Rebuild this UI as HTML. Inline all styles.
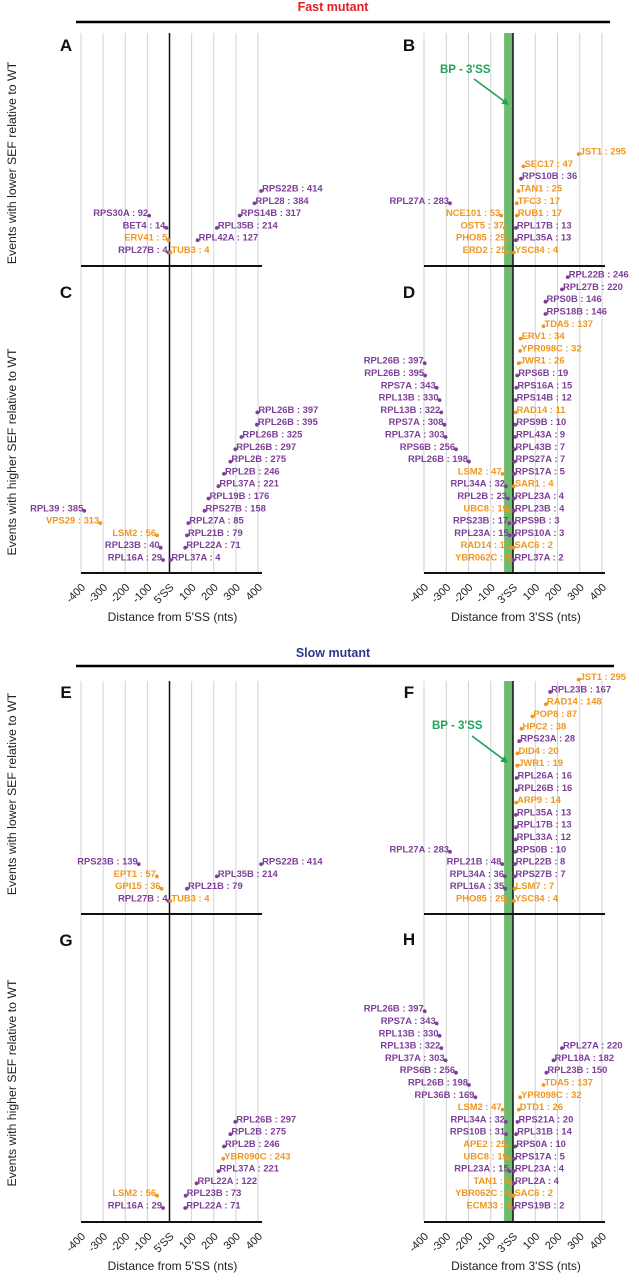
<!DOCTYPE html>
<html><head><meta charset="utf-8"><style>
html,body{margin:0;padding:0;background:#fff;}
svg{display:block;font-family:"Liberation Sans",sans-serif;}
</style></head><body>
<svg id="fig" width="639" height="1280" viewBox="0 0 639 1280" xmlns="http://www.w3.org/2000/svg">
<text x="333" y="11" text-anchor="middle" font-size="12.5" font-weight="bold" fill="#e31e24">Fast mutant</text>
<line x1="76" y1="22" x2="610" y2="22" stroke="#000" stroke-width="2.5"/>
<text x="333" y="657" text-anchor="middle" font-size="12.5" font-weight="bold" fill="#2e3a8c">Slow mutant</text>
<line x1="76" y1="666" x2="614" y2="666" stroke="#000" stroke-width="2.5"/>
<g id="layer"></g>
</svg>
<script>
// ---- data (bottom row first) ----
const A_L_genes=["RPL27B","ERV41","BET4","RPS30A"];
const A_L_vals=[4,5,14,92];
const A_L_cls="popp";
const A_R_genes=["TUB3","RPL42A","RPL35B","RPS14B","RPL28","RPS22B"];
const A_R_vals=[4,127,214,317,384,414];
const A_R_cls="oppppp";

const B_L_genes=["ERD2","PHO85","OST5","NCE101","RPL27A"];
const B_L_vals=[25,29,37,53,283];
const B_L_cls="oooop";
const B_R_genes=["YSC84","RPL35A","RPL17B","RUB1","TFC3","TAN1","RPS10B","SEC17","JST1"];
const B_R_vals=[4,13,13,17,17,25,36,47,295];
const B_R_cls="oppooopoo";

const C_L_genes=["RPL16A","RPL23B","LSM2","VPS29","RPL39"];
const C_L_vals=[29,40,56,313,385];
const C_L_cls="ppoop";
const C_R_genes=["RPL37A","RPL22A","RPL21B","RPL27A","RPS27B","RPL19B","RPL37A","RPL2B","RPL2B","RPL26B","RPL26B","RPL26B","RPL26B"];
const C_R_vals=[4,71,79,85,158,176,221,246,275,297,325,395,397];
const C_R_cls="ppppppppppppp";

const D_L_genes=["YBR062C","RAD14","RPL23A","RPS23B","UBC8","RPL2B","RPL34A","LSM2","RPL26B","RPS6B","RPL37A","RPS7A","RPL13B","RPL13B","RPS7A","RPL26B","RPL26B"];
const D_L_vals=[5,11,15,17,19,23,32,47,198,256,303,308,322,330,343,395,397];
const D_L_cls="ooppoppoppppppppp";
const D_R_genes=["RPL37A","SAC6","RPS10A","RPS9B","RPL23B","RPL23A","SAR1","RPS17A","RPS27A","RPL43B","RPL43A","RPS9B","RAD14","RPS14B","RPS16A","RPS6B","JWR1","YPR098C","ERV1","TDA5","RPS18B","RPS0B","RPL27B","RPL22B"];
const D_R_vals=[2,2,3,3,4,4,4,5,7,7,9,10,11,12,15,19,26,32,34,137,146,146,220,246];
const D_R_cls="poppppopppppopppoooopppp";

const E_L_genes=["RPL27B","GPI15","EPT1","RPS23B"];
const E_L_vals=[4,36,57,139];
const E_L_cls="poop";
const E_R_genes=["TUB3","RPL21B","RPL35B","RPS22B"];
const E_R_vals=[4,79,214,414];
const E_R_cls="oppp";

const F_L_genes=["PHO85","RPL16A","RPL34A","RPL21B","RPL27A"];
const F_L_vals=[29,35,36,48,283];
const F_L_cls="opppp";
const F_R_genes=["YSC84","LSM7","RPS27B","RPL22B","RPS0B","RPL33A","RPL17B","RPL35A","ARP9","RPL26B","RPL26A","JWR1","DID4","RPS23A","HPC2","POP8","RAD14","RPL23B","JST1"];
const F_R_vals=[4,7,7,8,10,12,13,13,14,16,16,19,20,28,38,87,148,167,295];
const F_R_cls="ooppppppoppoopooopo";

const G_L_genes=["RPL16A","LSM2"];
const G_L_vals=[29,56];
const G_L_cls="po";
const G_R_genes=["RPL22A","RPL23B","RPL22A","RPL37A","YBR090C","RPL2B","RPL2B","RPL26B"];
const G_R_vals=[71,73,122,221,243,246,275,297];
const G_R_cls="ppppoppp";

const H_L_genes=["ECM33","YBR062C","TAN1","RPL23A","UBC8","APE2","RPS10B","RPL34A","LSM2","RPL36B","RPL26B","RPS6B","RPL37A","RPL13B","RPL13B","RPS7A","RPL26B"];
const H_L_vals=[3,5,6,15,19,25,31,32,47,169,198,256,303,322,330,343,397];
const H_L_cls="ooopooppopppppppp";
const H_R_genes=["RPS19B","SAC6","RPL2A","RPL23A","RPS17A","RPS0A","RPL31B","RPS21A","DTD1","YPR098C","TDA5","RPL23B","RPL18A","RPL27A"];
const H_R_vals=[2,2,4,4,5,10,14,20,26,32,137,150,182,220];
const H_R_cls="poppppppoooppp";

const tickLabels5=["-400","-300","-200","-100","5'SS","100","200","300","400"];
const tickLabels3=["-400","-300","-200","-100","3'SS","100","200","300","400"];
const tickVals=[-400,-300,-200,-100,0,100,200,300,400];

// ---- drawing ----
const NS="http://www.w3.org/2000/svg";
const layer=document.getElementById('layer');
const PURPLE="#7d3f98", ORANGE="#f0961e";
function mk(tag,attrs,parent){const e=document.createElementNS(NS,tag);for(const k in attrs)e.setAttribute(k,attrs[k]);(parent||layer).appendChild(e);return e;}
const cols={L:{cx:169.5,s:0.2213,x0:81,x1:262},R:{cx:513,s:0.2225,x0:424,x1:605}};
const rows={fast:{top:33,sep:266,bot:573,up:249.5,lo:557},slow:{top:681,sep:914,bot:1222,up:898,lo:1205}};
const STEP=12.3;
function xScale(c,v){return c.cx+v*c.s;}

function frame(colKey,rowKey,is3,letter){
  const c=cols[colKey],r=rows[rowKey];
  const g=mk('g',{});
  
  
  tickVals.forEach(t=>{
    const x=xScale(c,t);
    const ln=mk('line',{x1:x,y1:r.top,x2:x,y2:r.bot,stroke:'#d2d2d2','stroke-width':1},g);
    
    
  });
  if(is3){
    const band=mk('rect',{x:xScale(c,-40),y:r.top,width:40*c.s,height:r.bot-r.top,fill:'#6dbb6f'},g);
    
    
  }
  const vl=mk('line',{x1:c.cx,y1:r.top,x2:c.cx,y2:r.bot,stroke:'#111','stroke-width':1.5},g);
  
  
  [r.sep,r.bot].forEach((y,i)=>{
    const hl=mk('line',{x1:c.x0,y1:y,x2:c.x1,y2:y,stroke:'#111','stroke-width':2},g);
    
    
  });
  const labels=is3?tickLabels3:tickLabels5;
  tickVals.forEach((t,i)=>{
    const x=xScale(c,t)+5, y=r.bot+15;
    const tx=mk('text',{x:x,y:y,'text-anchor':'end','font-size':11,fill:'#222',transform:`rotate(-45 ${x} ${y})`},g);
    tx.textContent=labels[i];
    
    
  });
  const at=mk('text',{x:c.cx+3,y:r.bot+48,'text-anchor':'middle','font-size':12,fill:'#222'},g);
  at.textContent=is3?"Distance from 3'SS (nts)":"Distance from 5'SS (nts)";
  
  
}

function letterAt(txt,x,y){
  const t=mk('text',{x:x,y:y,'font-size':17,'font-weight':'bold','text-anchor':'middle',fill:'#111'});
  t.textContent=txt;
  
  
}

function series(colKey,base,genes,vals,cls,side){
  const c=cols[colKey];
  genes.forEach((gname,i)=>{
    const v=side==='L'?-vals[i]:vals[i];
    const x=xScale(c,v), yc=base-i*STEP;
    const col=cls[i]==='o'?ORANGE:PURPLE;
    const dot=mk('circle',{cx:x,cy:yc+3,r:1.9,fill:col});
    
    
    const t=mk('text',{x:side==='L'?x-1:x+1,y:yc+3.5,'text-anchor':side==='L'?'end':'start','font-size':9.4,'font-weight':'bold',fill:col});
    t.textContent=gname+' : '+vals[i];
    
    
  });
}

function ytitle(txt,y){
  const t=mk('text',{x:12,y:y,'text-anchor':'middle','font-size':12.3,fill:'#222',transform:`rotate(-90 12 ${y})`,'dominant-baseline':'central'});
  t.textContent=txt;
  
  
}

function bpNote(x,y,ax1,ay1,ax2,ay2){
  const t=mk('text',{x:x,y:y,'font-size':11.5,'font-weight':'bold',fill:'#1fa35a'});
  t.textContent="BP - 3'SS";
  
  
  const l=mk('line',{x1:ax1,y1:ay1,x2:ax2-4,y2:ay2-3.2,stroke:'#1fa35a','stroke-width':1.6});
  
  
  const ang=Math.atan2(ay2-ay1,ax2-ax1);
  const p=[[ax2,ay2],[ax2-7*Math.cos(ang)+3.5*Math.sin(ang),ay2-7*Math.sin(ang)-3.5*Math.cos(ang)],[ax2-7*Math.cos(ang)-3.5*Math.sin(ang),ay2-7*Math.sin(ang)+3.5*Math.cos(ang)]];
  const h=mk('polygon',{points:p.map(q=>q.join(',')).join(' '),fill:'#1fa35a'});
  
  
}

frame('L','fast',false,'AC');
frame('R','fast',true,'BD');
frame('L','slow',false,'EG');
frame('R','slow',true,'FH');

letterAt('A',66,51); letterAt('B',409,51);
letterAt('C',66,298); letterAt('D',409,298);
letterAt('E',66,698); letterAt('F',409,698);
letterAt('G',66,946); letterAt('H',409,945);

ytitle('Events with lower SEF relative to WT',163);
ytitle('Events with higher SEF relative to WT',452);
ytitle('Events with lower SEF relative to WT',794);
ytitle('Events with higher SEF relative to WT',1083);

bpNote(440,73,474,79,509,105);
bpNote(432,729,472,736,508,763);

const F=rows.fast,S=rows.slow;
series('L',F.up,A_L_genes,A_L_vals,A_L_cls,'L');
series('L',F.up,A_R_genes,A_R_vals,A_R_cls,'R');
series('R',F.up,B_L_genes,B_L_vals,B_L_cls,'L');
series('R',F.up,B_R_genes,B_R_vals,B_R_cls,'R');
series('L',F.lo,C_L_genes,C_L_vals,C_L_cls,'L');
series('L',F.lo,C_R_genes,C_R_vals,C_R_cls,'R');
series('R',F.lo,D_L_genes,D_L_vals,D_L_cls,'L');
series('R',F.lo,D_R_genes,D_R_vals,D_R_cls,'R');
series('L',S.up,E_L_genes,E_L_vals,E_L_cls,'L');
series('L',S.up,E_R_genes,E_R_vals,E_R_cls,'R');
series('R',S.up,F_L_genes,F_L_vals,F_L_cls,'L');
series('R',S.up,F_R_genes,F_R_vals,F_R_cls,'R');
series('L',S.lo,G_L_genes,G_L_vals,G_L_cls,'L');
series('L',S.lo,G_R_genes,G_R_vals,G_R_cls,'R');
series('R',S.lo,H_L_genes,H_L_vals,H_L_cls,'L');
series('R',S.lo,H_R_genes,H_R_vals,H_R_cls,'R');
</script>
</body></html>
